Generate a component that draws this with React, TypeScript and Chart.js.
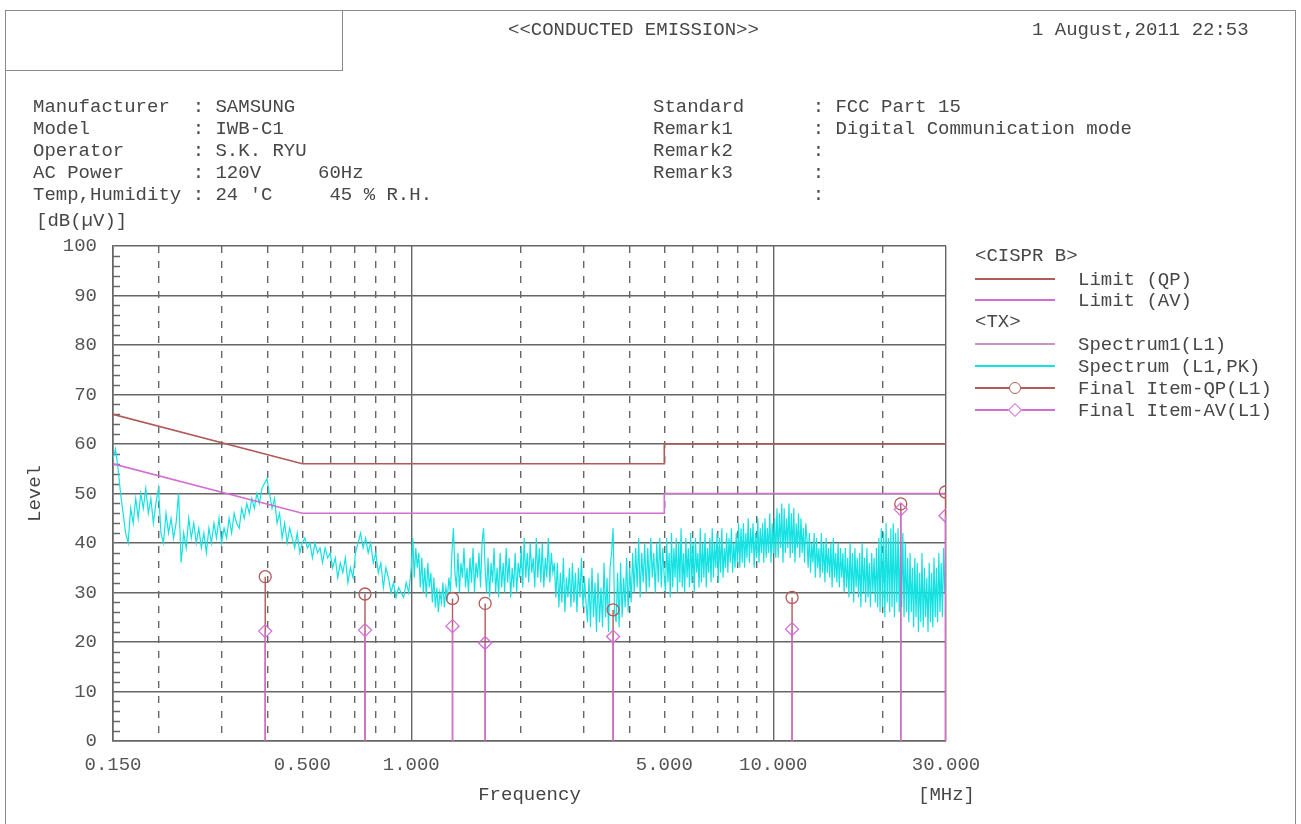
import React, { useEffect, useRef } from 'react';
import { Chart, registerables } from 'chart.js';

Chart.register(...registerables);

// ---------- DATA ----------
// Spectrum (L1, PK) sweep in four frequency segments [MHz]
const SEG_A_RANGE = [0.15, 0.5];
const SEG_A_LEVELS = [57, 59, 55, 50, 46, 42, 40, 47, 44, 49, 45, 50, 47, 51, 46, 49, 44, 48, 51, 42, 40, 46, 42, 45, 41, 44, 50, 36, 42, 39, 45, 41, 44, 40, 43, 39, 42, 38, 43, 40, 44, 41, 45, 40, 43, 41, 45, 42, 46, 44, 43, 47, 45, 48, 46, 49, 47, 50, 48, 51, 52, 53, 50, 47, 49, 44, 46, 41, 44, 40, 43, 41, 39, 42, 38, 40];
const SEG_B_RANGE = [0.5, 1.0];
const SEG_B_LEVELS = [38, 41, 39, 40, 37, 40, 38, 39, 36, 39, 37, 38, 35, 37, 33, 36, 34, 37, 32, 35, 33, 38, 40, 42, 39, 41, 38, 40, 36, 38, 34, 36, 31, 35, 33, 30, 32, 29, 31, 30, 29, 32, 30, 35];
const SEG_C_RANGE = [1.0, 5.0];
const SEG_C_LEVELS = [
  36, 41, 33, 39, 35, 38,
  31, 37, 30, 35, 29, 36, 31, 34,
  28, 33, 27, 31, 26, 30, 28, 32, 27, 31, 29, 33, 30,
  38, 43, 34,
  31, 38, 30, 36, 33, 39, 31, 35, 30, 37, 32, 39, 30, 36, 33, 38, 31,
  40, 43, 35,
  30, 37, 29, 36, 32, 39, 30, 35, 29, 38, 31, 36, 30, 39, 32, 37, 29, 35, 31, 38, 30, 36, 33,
  39, 31, 41, 33, 38, 32, 40, 34, 37, 31, 41, 33, 39, 32, 40, 31, 37, 33, 41, 32, 38, 34, 36,
  29, 36, 27, 34, 28, 37, 26, 33, 29, 35, 27, 36, 28, 34, 26, 35, 29, 37, 27, 33, 28,
  24, 33, 23, 35, 25, 32, 22, 34, 24, 31, 23, 36, 25, 33, 22, 35,
  38, 43, 26,
  24, 34, 23, 36, 25, 33, 27, 37, 26, 35, 28, 38,
  30, 39, 31, 41, 29, 38, 32, 40, 30, 39, 31, 41, 33, 38, 30, 40, 32, 41, 31, 39, 33,
];
const SEG_D_RANGE = [5.0, 30.0];
const SEG_D_LEVELS = [
  40, 30, 41, 32, 38, 29, 42, 31, 39, 33, 41, 30, 40, 32, 43, 31, 38, 30, 41, 33, 39, 31, 42, 32, 40, 30, 41, 34, 38, 31, 43, 32, 40, 33, 42, 31, 39, 34, 41, 32, 43, 33, 40, 35, 42, 32, 41, 34, 43, 33, 39, 35, 42, 34, 41, 36, 43, 34, 40, 35, 42, 36, 44, 35,
  43, 36, 44, 35, 42, 37, 45, 36, 43, 38, 44, 35, 42, 37, 45, 36, 43, 38, 44, 36, 45, 37, 43, 38, 46, 36, 44, 38, 45, 37,
  47, 37, 46, 39, 48, 36, 47, 38, 45, 39, 48, 37, 46, 38, 47, 36, 44, 39, 46, 37, 45, 38, 43, 36, 44,
  41, 35, 42, 34, 40, 36, 42, 33, 41, 35, 39, 33, 42, 34, 40, 32, 41, 34, 39, 33, 40, 31, 41, 33, 38, 32, 40, 31, 39, 33, 38, 30,
  39, 31, 37, 29, 40, 30, 38, 28, 39, 31, 37, 29, 38, 27, 40, 30, 37, 28, 39, 29, 36, 27, 38, 30, 37, 28, 39, 27, 41,
  26, 43, 27, 42, 25, 44, 28, 41, 26, 43, 27, 44, 25, 42, 28, 43, 26, 41, 27, 42, 25, 40, 26,
  37, 24, 38, 26, 35, 23, 37, 25, 36, 22, 34, 24, 38, 23, 35, 25, 33, 22, 36, 24, 34, 23, 37, 25, 35, 24, 38, 26, 36, 25, 39, 30, 35,
];

// CISPR B limits
const LIMIT_FREQS = [0.15, 0.5, 5, 5, 30];
const LIMIT_QP = [66, 56, 56, 60, 60];
const LIMIT_AV = [56, 46, 46, 50, 50];

// Final items
const FINAL_FREQS = [0.395, 0.745, 1.3, 1.6, 3.61, 11.27, 22.5, 29.9];
const FINAL_QP = [33.2, 29.7, 28.8, 27.8, 26.5, 29.0, 47.9, 50.3];
const FINAL_AV = [22.2, 22.4, 23.2, 19.8, 21.1, 22.6, 46.8, 45.5];

// Axes
const X_GRID_FREQS = [0.15, 0.2, 0.3, 0.4, 0.5, 0.6, 0.7, 0.8, 0.9, 1, 2, 3, 4, 5, 6, 7, 8, 9, 10, 20, 30];
const X_SOLID_FREQS = [0.15, 1, 10, 30];
const X_LABEL_FREQS = [0.15, 0.5, 1, 5, 10, 30];
const X_LABELS = ['0.150', '0.500', '1.000', '5.000', '10.000', '30.000'];
const Y_MIN = 0;
const Y_MAX = 100;
const Y_STEP = 10;
const Y_MINOR_STEP = 2;

// ---------- STYLE ----------
const FONT = '"Liberation Mono", "DejaVu Sans Mono", monospace';
const TEXT = '#474747';
const GRID = '#666666';
const CYAN = '#14e2e2';
const QP_COLOR = '#b25a58';
const AV_COLOR = '#d36ed3';
const SPEC1_COLOR = '#c894c4';

function sweep(range: number[], levels: number[]) {
  const n = levels.length;
  const l0 = Math.log10(range[0]);
  const l1 = Math.log10(range[1]);
  return levels.map((v, i) => ({ x: Math.pow(10, l0 + ((l1 - l0) * i) / (n - 1)), y: v }));
}

function stems(freqs: number[], vals: number[]) {
  const out: any[] = [];
  freqs.forEach((f, i) => {
    out.push({ x: f, y: 0 });
    out.push({ x: f, y: vals[i] });
    out.push({ x: f, y: null });
  });
  return out;
}

const minorTicksPlugin = {
  id: 'minorTicks',
  beforeDatasetsDraw(chart: any) {
    const { ctx, chartArea, scales } = chart;
    const ys = scales.y;
    ctx.save();
    ctx.strokeStyle = GRID;
    ctx.lineWidth = 1.5;
    for (let v = Y_MIN + Y_MINOR_STEP; v < Y_MAX; v += Y_MINOR_STEP) {
      if (v % Y_STEP === 0) continue;
      const py = Math.round(ys.getPixelForValue(v)) + 0.5;
      ctx.beginPath();
      ctx.moveTo(chartArea.left, py);
      ctx.lineTo(chartArea.left + 7, py);
      ctx.stroke();
    }
    ctx.restore();
  },
};

function Txt({ x, y, children, style }: any) {
  return (
    <div style={{ position: 'absolute', left: x, top: y - 11, lineHeight: '22px', whiteSpace: 'pre', ...style }}>
      {children}
    </div>
  );
}

function LegendLine({ y, color, marker }: any) {
  return (
    <div style={{ position: 'absolute', left: 975, top: y - 1, width: 80, height: 2, background: color }}>
      {marker === 'circle' && (
        <div style={{ position: 'absolute', left: 34, top: -5, width: 12, height: 12, borderRadius: '50%', border: `1.3px solid ${color}`, background: '#fff', boxSizing: 'border-box' }} />
      )}
      {marker === 'diamond' && (
        <div style={{ position: 'absolute', left: 35, top: -4, width: 10, height: 10, transform: 'rotate(45deg)', border: `1.3px solid ${color}`, background: '#fff', boxSizing: 'border-box' }} />
      )}
    </div>
  );
}

export default function App() {
  const ref = useRef<HTMLCanvasElement>(null);

  useEffect(() => {
    if (!ref.current) return;
    const spectrum = [
      ...sweep(SEG_A_RANGE, SEG_A_LEVELS),
      ...sweep(SEG_B_RANGE, SEG_B_LEVELS).slice(1),
      ...sweep(SEG_C_RANGE, SEG_C_LEVELS).slice(1),
      ...sweep(SEG_D_RANGE, SEG_D_LEVELS).slice(1),
    ];
    const tickFont = { family: FONT, size: 19 };
    const chart = new Chart(ref.current, {
      type: 'line',
      data: {
        datasets: [
          {
            label: 'Spectrum (L1,PK)',
            data: spectrum,
            borderColor: CYAN,
            borderWidth: 1.2,
            pointRadius: 0,
            tension: 0,
            order: 10,
          },
          {
            label: 'Limit (QP)',
            data: LIMIT_FREQS.map((f, i) => ({ x: f, y: LIMIT_QP[i] })),
            borderColor: QP_COLOR,
            borderWidth: 1.6,
            pointRadius: 0,
            order: 8,
          },
          {
            label: 'Limit (AV)',
            data: LIMIT_FREQS.map((f, i) => ({ x: f, y: LIMIT_AV[i] })),
            borderColor: AV_COLOR,
            borderWidth: 1.6,
            pointRadius: 0,
            order: 7,
          },
          {
            label: 'QP stems',
            data: stems(FINAL_FREQS, FINAL_QP),
            borderColor: QP_COLOR,
            borderWidth: 1.4,
            pointRadius: 0,
            spanGaps: false,
            order: 6,
          },
          {
            label: 'AV stems',
            data: stems(FINAL_FREQS, FINAL_AV),
            borderColor: AV_COLOR,
            borderWidth: 1.4,
            pointRadius: 0,
            spanGaps: false,
            order: 5,
          },
          {
            label: 'Final Item-QP(L1)',
            data: FINAL_FREQS.map((f, i) => ({ x: f, y: FINAL_QP[i] })),
            showLine: false,
            pointStyle: 'circle',
            pointRadius: 6,
            pointBorderWidth: 1.3,
            pointBorderColor: QP_COLOR,
            pointBackgroundColor: 'rgba(0,0,0,0)',
            order: 4,
          },
          {
            label: 'Final Item-AV(L1)',
            data: FINAL_FREQS.map((f, i) => ({ x: f, y: FINAL_AV[i] })),
            showLine: false,
            pointStyle: 'rectRot',
            pointRadius: 6.5,
            pointBorderWidth: 1.3,
            pointBorderColor: AV_COLOR,
            pointBackgroundColor: 'rgba(0,0,0,0)',
            order: 3,
          },
        ],
      },
      options: {
        animation: false,
        responsive: false,
        maintainAspectRatio: false,
        events: [],
        layout: { padding: { left: 0, top: 246, right: 355, bottom: 0 } },
        plugins: { legend: { display: false }, tooltip: { enabled: false }, title: { display: false } },
        scales: {
          x: {
            type: 'logarithmic',
            min: 0.15,
            max: 30,
            afterBuildTicks: (s: any) => {
              s.ticks = X_GRID_FREQS.map((v) => ({ value: v }));
            },
            afterFit: (s: any) => {
              s.height = 83;
            },
            ticks: {
              autoSkip: false,
              maxRotation: 0,
              minRotation: 0,
              padding: 13,
              color: '#555',
              font: tickFont,
              callback: (v: any) => {
                const idx = X_LABEL_FREQS.findIndex((f) => Math.abs(f - Number(v)) < 1e-9);
                return idx >= 0 ? X_LABELS[idx] : '';
              },
            },
            grid: { color: GRID, lineWidth: 1.4, drawTicks: false },
            border: {
              display: true,
              color: GRID,
              width: 1.6,
              dash: (ctx: any) => {
                if (!ctx || !ctx.tick) return [];
                const v = ctx.tick.value;
                return X_SOLID_FREQS.some((f) => Math.abs(f - v) < 1e-9) ? [] : [7, 8];
              },
            },
            title: { display: true, text: 'Frequency', color: '#444', font: tickFont, padding: { top: 0, bottom: 18 } },
          },
          y: {
            type: 'linear',
            min: Y_MIN,
            max: Y_MAX,
            afterFit: (s: any) => {
              s.width = 113;
            },
            ticks: { stepSize: Y_STEP, padding: 16, color: '#555', font: tickFont },
            grid: { color: GRID, lineWidth: 1.6, drawTicks: false },
            border: { display: true, color: GRID, width: 1.6 },
            title: { display: true, text: 'Level', color: '#444', font: tickFont, padding: { top: 24, bottom: 0 } },
          },
        },
      },
      plugins: [minorTicksPlugin],
    } as any);
    return () => chart.destroy();
  }, []);

  return (
    <div style={{ position: 'fixed', left: 0, top: 0, width: 1301, height: 824, background: '#fff', fontFamily: FONT, fontSize: 19, color: TEXT, overflow: 'hidden' }}>
      <div style={{ position: 'absolute', left: 5, top: 10, width: 1291, height: 830, border: '1.5px solid #8a8a8a', boxSizing: 'border-box' }} />
      <div style={{ position: 'absolute', left: 5, top: 10, width: 338, height: 61, border: '1.5px solid #8a8a8a', boxSizing: 'border-box' }} />
      <canvas ref={ref} width={1301} height={824} style={{ position: 'absolute', left: 0, top: 0 }} />

      <Txt x={508} y={30}>{'<<CONDUCTED EMISSION>>'}</Txt>
      <Txt x={1032} y={30}>{'1 August,2011 22:53'}</Txt>

      <Txt x={33} y={107}>{'Manufacturer  : SAMSUNG'}</Txt>
      <Txt x={33} y={129}>{'Model         : IWB-C1'}</Txt>
      <Txt x={33} y={151}>{'Operator      : S.K. RYU'}</Txt>
      <Txt x={33} y={173}>{'AC Power      : 120V     60Hz'}</Txt>
      <Txt x={33} y={195}>{"Temp,Humidity : 24 'C     45 % R.H."}</Txt>

      <Txt x={653} y={107}>{'Standard      : FCC Part 15'}</Txt>
      <Txt x={653} y={129}>{'Remark1       : Digital Communication mode'}</Txt>
      <Txt x={653} y={151}>{'Remark2       :'}</Txt>
      <Txt x={653} y={173}>{'Remark3       :'}</Txt>
      <Txt x={653} y={195}>{'              :'}</Txt>

      <Txt x={36} y={221}>{'[dB(\u00b5V)]'}</Txt>
      <Txt x={918} y={795}>{'[MHz]'}</Txt>

      <Txt x={975} y={256}>{'<CISPR B>'}</Txt>
      <LegendLine y={279} color={QP_COLOR} />
      <Txt x={1078} y={280}>{'Limit (QP)'}</Txt>
      <LegendLine y={300} color={AV_COLOR} />
      <Txt x={1078} y={301}>{'Limit (AV)'}</Txt>
      <Txt x={975} y={322}>{'<TX>'}</Txt>
      <LegendLine y={344} color={SPEC1_COLOR} />
      <Txt x={1078} y={345}>{'Spectrum1(L1)'}</Txt>
      <LegendLine y={366} color={CYAN} />
      <Txt x={1078} y={367}>{'Spectrum (L1,PK)'}</Txt>
      <LegendLine y={388} color={QP_COLOR} marker="circle" />
      <Txt x={1078} y={389}>{'Final Item-QP(L1)'}</Txt>
      <LegendLine y={410} color={AV_COLOR} marker="diamond" />
      <Txt x={1078} y={411}>{'Final Item-AV(L1)'}</Txt>
    </div>
  );
}
